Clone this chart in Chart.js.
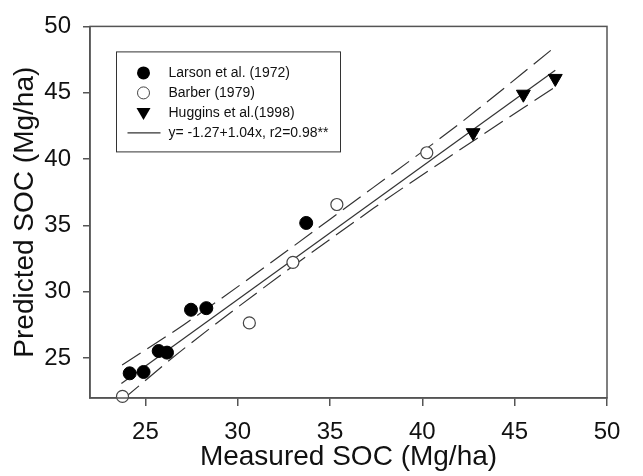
<!DOCTYPE html>
<html>
<head>
<meta charset="utf-8">
<script src="https://cdn.jsdelivr.net/npm/chart.js@4/dist/chart.umd.min.js"></script>
<style>
    html, body { margin: 0; padding: 0; background: #fff; }
    #wrap { width: 643px; height: 476px; }
</style>
</head>
<body>
<div id="wrap"><canvas id="graficoSOC"></canvas></div>
<script>
    // Datos
    const larsonX = [24.15, 24.9, 25.72, 26.17, 27.47, 28.3, 33.71];
    const larsonY = [23.86, 23.96, 25.54, 25.42, 28.65, 28.77, 35.19];
    const barberX = [23.76, 30.63, 32.99, 35.37, 40.24];
    const barberY = [22.12, 27.66, 32.22, 36.58, 40.48];
    const hugginsX = [42.75, 45.47, 47.2];
    const hugginsY = [41.99, 44.89, 46.08];

    // Recta de regresion y bandas de confianza
    const fitX = [23.7, 47.2];
    const fitY = [23.1, 46.7];
    const upperX = [23.74, 27.16, 37.35, 42.05, 47.19];
    const upperY = [24.48, 27.60, 37.87, 42.71, 48.46];
    const lowerX = [23.74, 27.16, 37.35, 42.05, 47.19];
    const lowerY = [21.85, 25.80, 36.29, 40.72, 45.44];

    const xTicks = [25, 30, 35, 40, 45, 50];
    const yTicks = [25, 30, 35, 40, 45, 50];

    const fitLabel = 'y= -1.27+1.04x, r2=0.98**';

    function puntos(xs, ys) {
        return xs.map((x, i) => ({ x: x, y: ys[i] }));
    }

    const fuente = "Arial, 'Liberation Sans', sans-serif";

    // Marco completo y leyenda dentro del area
    const marcoYLeyenda = {
        id: 'marcoYLeyenda',
        afterDraw(chart) {
            const c = chart.ctx;
            const a = chart.chartArea;
            c.save();
            c.strokeStyle = '#555';
            c.lineWidth = 1.5;
            c.strokeRect(a.left, a.top, a.right - a.left, a.bottom - a.top);

            const bx = a.left + 26.5, by = a.top + 25.5;
            c.strokeStyle = '#333';
            c.lineWidth = 1;
            c.strokeRect(bx, by, 224, 100);

            c.font = '14px ' + fuente;
            c.fillStyle = '#111';
            c.textBaseline = 'middle';
            const sx = bx + 27, tx = bx + 52;
            const filas = chart.data.datasets.slice(0, 4);
            filas.forEach((ds, i) => {
                const yy = by + 21 + i * 20;
                c.beginPath();
                if (i === 0) {
                    c.arc(sx, yy, 6.5, 0, Math.PI * 2);
                    c.fillStyle = '#000';
                    c.fill();
                } else if (i === 1) {
                    c.arc(sx, yy, 6, 0, Math.PI * 2);
                    c.fillStyle = '#fff';
                    c.fill();
                    c.strokeStyle = '#444';
                    c.lineWidth = 1;
                    c.stroke();
                } else if (i === 2) {
                    c.moveTo(sx - 7, yy - 5);
                    c.lineTo(sx + 7, yy - 5);
                    c.lineTo(sx, yy + 7);
                    c.closePath();
                    c.fillStyle = '#000';
                    c.fill();
                } else {
                    c.moveTo(sx - 16, yy);
                    c.lineTo(sx + 17, yy);
                    c.strokeStyle = '#333';
                    c.lineWidth = 1.2;
                    c.stroke();
                }
                c.fillStyle = '#111';
                c.fillText(ds.label, tx, yy);
            });
            c.restore();
        }
    };

    const ctx = document.getElementById('graficoSOC').getContext('2d');
    new Chart(ctx, {
        type: 'scatter',
        data: {
            datasets: [{
                label: 'Larson et al. (1972)',
                data: puntos(larsonX, larsonY),
                pointStyle: 'circle',
                pointRadius: 6.5,
                backgroundColor: '#000',
                borderColor: '#000',
                borderWidth: 1,
                clip: false
            }, {
                label: 'Barber (1979)',
                data: puntos(barberX, barberY),
                pointStyle: 'circle',
                pointRadius: 6,
                backgroundColor: '#fff',
                borderColor: '#444',
                borderWidth: 1.2,
                clip: false
            }, {
                label: 'Huggins et al.(1998)',
                data: puntos(hugginsX, hugginsY),
                pointStyle: 'triangle',
                rotation: 180,
                pointRadius: 8,
                backgroundColor: '#000',
                borderColor: '#000',
                borderWidth: 1,
                clip: false
            }, {
                label: fitLabel,
                data: puntos(fitX, fitY),
                showLine: true,
                pointRadius: 0,
                borderColor: '#333',
                borderWidth: 1.2
            }, {
                label: 'upper',
                data: puntos(upperX, upperY),
                showLine: true,
                pointRadius: 0,
                borderColor: '#333',
                borderWidth: 1.2,
                borderDash: [22, 8],
                cubicInterpolationMode: 'monotone'
            }, {
                label: 'lower',
                data: puntos(lowerX, lowerY),
                showLine: true,
                pointRadius: 0,
                borderColor: '#333',
                borderWidth: 1.2,
                borderDash: [22, 8],
                cubicInterpolationMode: 'monotone'
            }]
        },
        options: {
            responsive: true,
            maintainAspectRatio: false,
            animation: false,
            layout: { padding: { top: 22, right: 36, left: 0, bottom: 0 } },
            plugins: {
                legend: { display: false },
                tooltip: { enabled: false }
            },
            scales: {
                x: {
                    type: 'linear',
                    min: 22,
                    max: 50,
                    afterBuildTicks: s => { s.ticks = xTicks.map(v => ({ value: v })); },
                    afterFit: s => { s.height = 78; },
                    ticks: { font: { size: 24, family: fuente }, color: '#111', padding: 12, maxRotation: 0 },
                    grid: { display: true, drawOnChartArea: false, drawTicks: true, tickLength: 8, color: '#555', lineWidth: 1.5 },
                    border: { display: true, color: '#555', width: 1.5 },
                    title: { display: true, text: 'Measured SOC (Mg/ha)', font: { size: 28, family: fuente }, color: '#111', padding: { top: 0, bottom: 2 } }
                },
                y: {
                    type: 'linear',
                    min: 22,
                    max: 50,
                    afterBuildTicks: s => { s.ticks = yTicks.map(v => ({ value: v })); },
                    afterFit: s => { s.width = 90; },
                    ticks: { font: { size: 24, family: fuente }, color: '#111', padding: 12 },
                    grid: { display: true, drawOnChartArea: false, drawTicks: true, tickLength: 7, color: '#555', lineWidth: 1.5 },
                    border: { display: true, color: '#555', width: 1.5 },
                    title: { display: true, text: 'Predicted SOC (Mg/ha)', font: { size: 28, family: fuente }, color: '#111', padding: { top: 8, bottom: 0 } }
                }
            }
        },
        plugins: [marcoYLeyenda]
    });
</script>
</body>
</html>
